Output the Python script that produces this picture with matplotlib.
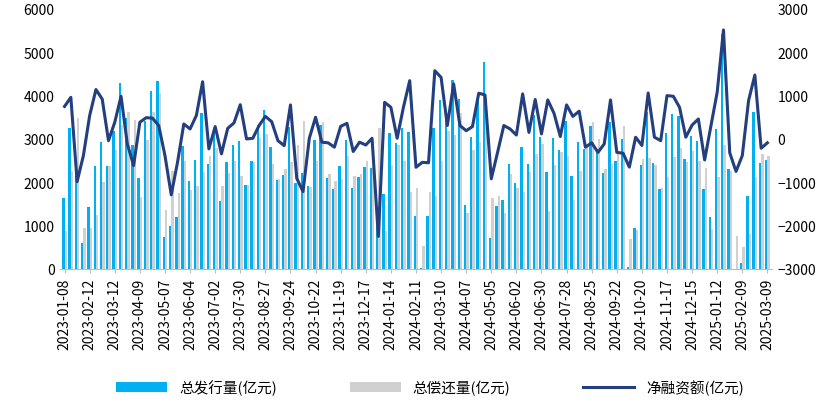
import matplotlib
matplotlib.use("Agg")
import matplotlib.pyplot as plt
import numpy as np
import datetime as dt

plt.rcParams["font.family"] = ["Noto Sans CJK SC", "DejaVu Sans"]

issuance = [1630, 3250, 2500, 590, 1420, 2370, 2920, 2370, 3190, 4280,
            3480, 2860, 2090, 3420, 4100, 4330, 730, 1000, 1190, 2830,
            2040, 2510, 3590, 2420, 3110, 1560, 2460, 2860, 2950, 1940,
            2480, 3310, 3670, 2810, 2050, 2170, 3280, 1980, 2210, 1910,
            2980, 3320, 2100, 1850, 2370, 2980, 1870, 2120, 2350, 2330,
            1000, 1730, 3130, 2910, 3250, 3150, 1220, 10, 1230, 3250,
            3900, 3500, 4360, 3920, 1480, 3040, 3950, 4770, 710, 1450,
            1600, 2420, 1980, 2810, 2420, 3560, 3040, 2230, 3020, 2750,
            3410, 2140, 2920, 2770, 3290, 2770, 2210, 3380, 2480, 3000,
            50, 940, 2400, 3610, 2440, 1850, 3140, 3580, 3520, 2540,
            3060, 2960, 1850, 1190, 3230, 5420, 2310, 0, 130, 1680,
            3610, 2450, 2520]
repayment = [870, 2270, 3490, 940, 940, 1250, 2010, 2380, 2750, 3310,
             3610, 3440, 1650, 2980, 3610, 4050, 1360, 2270, 1750, 2480,
             1810, 1920, 2230, 2600, 2780, 1910, 2210, 2480, 2140, 1940,
             2460, 3020, 3110, 2420, 2080, 2310, 2460, 2860, 3410, 1880,
             2480, 3380, 2190, 2020, 2080, 2610, 2140, 2190, 2480, 2320,
             3250, 870, 2400, 2870, 2500, 1770, 1860, 520, 1780, 1680,
             2480, 3190, 3090, 3590, 1280, 2750, 2920, 3750, 1630, 1680,
             1280, 2190, 1860, 1770, 2230, 2650, 2880, 1330, 2400, 2690,
             2600, 1590, 2270, 2870, 3380, 3000, 2310, 2420, 2690, 3290,
             690, 900, 2540, 2550, 2400, 1860, 2120, 2580, 2780, 2460,
             2730, 2500, 2320, 920, 2120, 2870, 2270, 750, 500, 810,
             2120, 2650, 2610]
net = [750, 960, -985, -385, 540, 1140, 920, -40, 385, 985,
       -115, -615, 385, 490, 480, 310, -385, -1290, -540, 345,
       230, 540, 1320, -230, 285, -345, 245, 370, 790, 0,
       15, 310, 520, 400, -40, -155, 785, -910, -1215, 15,
       500, -75, -90, -190, 290, 360, -290, -75, -140, 15,
       -2250, 845, 730, 15, 730, 1345, -655, -540, -550, 1575,
       1420, 310, 1270, 310, 190, 285, 1055, 1015, -920, -310,
       310, 230, 90, 1040, 150, 910, 115, 900, 590, 55,
       785, 520, 640, -190, -90, -310, -115, 900, -310, -330,
       -650, 40, -150, 1060, 40, -40, 1000, 985, 730, 40,
       320, 460, -485, 300, 1080, 2515, -320, -750, -385, 885,
       1475, -215, -90]

tick_labels = ["2023-01-08"] + [
    (dt.date(2023, 2, 12) + dt.timedelta(weeks=4 * k)).isoformat() for k in range(28)]

n = len(issuance)
x = np.arange(n)
tick_pos = [0] + list(range(4, n, 4))

fig = plt.figure(figsize=(8.27, 4.14), dpi=100)
ax = fig.add_axes([0.072, 0.348, 0.862, 0.628])
w = 0.38
ax.bar(x - w / 2, issuance, width=w, color="#00B0F0", label="总发行量(亿元)")
ax.bar(x + w / 2, repayment, width=w, color="#D0D0D0", label="总偿还量(亿元)")
ax.set_ylim(0, 6000)
ax.set_yticks(range(0, 6001, 1000))
ax.set_xlim(-0.8, n - 0.2)
ax.set_xticks(tick_pos)
ax.set_xticklabels(tick_labels[:len(tick_pos)], rotation=90, fontsize=10)
for s in ["top", "right", "left"]:
    ax.spines[s].set_visible(False)
ax.spines["bottom"].set_color("#BFBFBF")
ax.tick_params(axis="y", length=0, labelsize=10)
ax.tick_params(axis="x", length=3, color="#BFBFBF")

ax2 = ax.twinx()
ax2.plot(x, net, color="#233F80", lw=2.2, label="净融资额(亿元)")
ax2.set_ylim(-3000, 3000)
ax2.set_yticks(range(-3000, 3001, 1000))
ax2.tick_params(axis="y", length=0, labelsize=10)
for s in ["top", "right", "left", "bottom"]:
    ax2.spines[s].set_visible(False)

h1, l1 = ax.get_legend_handles_labels()
h2, l2 = ax2.get_legend_handles_labels()
fig.legend(h1 + h2, l1 + l2, loc="center", bbox_to_anchor=(0.52, 0.062),
           ncol=3, frameon=False, fontsize=10.5, columnspacing=5, handlelength=3.5)

fig.savefig("out.png", dpi=100)
